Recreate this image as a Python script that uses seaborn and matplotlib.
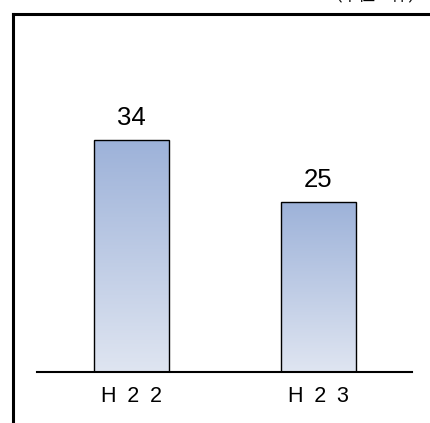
import numpy as np
import pandas as pd
import matplotlib
matplotlib.use("Agg")
import matplotlib.pyplot as plt
from matplotlib.colors import LinearSegmentedColormap
from matplotlib.lines import Line2D
import seaborn as sns

# Data
categories = ["H\u20022\u20022", "H\u20022\u20023"]
values = [34, 25]
unit_label = "（単位：件）"

df = pd.DataFrame({"year": categories, "count": values})

sns.set_theme(style="white")
plt.rcParams["font.family"] = ["Liberation Sans", "Noto Sans CJK JP", "DejaVu Sans"]

W, H = 430, 423
fig = plt.figure(figsize=(W / 100, H / 100), dpi=100)

# axes placed in pixel terms: left 37, right 412, top 14, baseline 372
left, right, top, base = 37, 412, 14, 372
ax = fig.add_axes([left / W, 1 - base / H, (right - left) / W, (base - top) / H])

sns.barplot(data=df, x="year", y="count", ax=ax, width=0.4,
            color="#a6b9dc", edgecolor="black", linewidth=1.0, saturation=1)

# vertical gradient fill inside each bar
cmap = LinearSegmentedColormap.from_list("barfade", ["#dfe5f1", "#9db2d9"])
grad = np.linspace(0, 1, 256).reshape(-1, 1)
for patch in ax.patches:
    x0, y0 = patch.get_x(), patch.get_y()
    w, h = patch.get_width(), patch.get_height()
    im = ax.imshow(grad, cmap=cmap, origin="lower", aspect="auto",
                   extent=[x0, x0 + w, y0, y0 + h], zorder=patch.get_zorder() - 0.1)
    im.set_clip_path(patch)
    patch.set_facecolor("none")
    patch.set_zorder(3)

ax.set_xlim(-0.505, 1.5)
ax.set_ylim(0, (base - top) / 6.82)

for cont in ax.containers:
    ax.bar_label(cont, labels=[str(v) for v in values], padding=7,
                 fontsize=18.5, color="black")

for s in ["top", "right", "left"]:
    ax.spines[s].set_visible(False)
ax.spines["bottom"].set_color("black")
ax.spines["bottom"].set_linewidth(1.5)
ax.set_yticks([])
ax.set_xlabel("")
ax.set_ylabel("")
ax.tick_params(axis="x", length=0, labelsize=15.5, pad=10, colors="black")

# outer frame: left and top edges
fig.add_artist(Line2D([13 / W, 13 / W], [0, 1 - 14 / H], color="black", lw=2.2,
                      solid_capstyle="projecting"))
fig.add_artist(Line2D([13 / W, 1.01], [1 - 14 / H, 1 - 14 / H], color="black", lw=2.2,
                      solid_capstyle="projecting"))

fig.text(425 / W, 1.0, unit_label, ha="right", va="baseline", fontsize=12,
         family=["Noto Sans CJK JP", "DejaVu Sans"], color="black")

fig.savefig("out.png", dpi=100, facecolor="white")
